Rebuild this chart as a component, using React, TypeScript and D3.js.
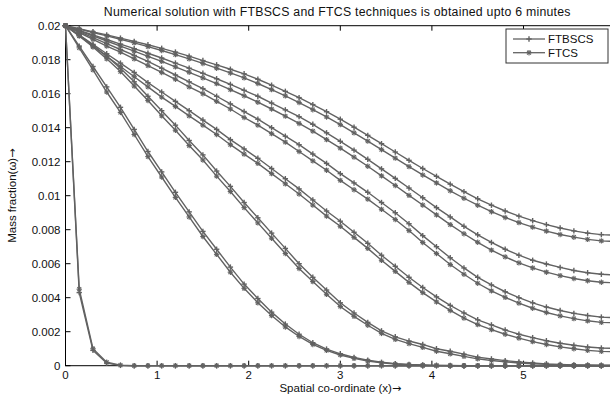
import React from 'react';
import * as d3 from 'd3';

const xs = [0, 0.15, 0.3, 0.45, 0.6, 0.75, 0.9, 1.05, 1.2, 1.35, 1.5, 1.65, 1.8, 1.95, 2.1, 2.25, 2.4, 2.55, 2.7, 2.85, 3.0, 3.15, 3.3, 3.45, 3.6, 3.75, 3.9, 4.05, 4.2, 4.35, 4.5, 4.65, 4.8, 4.95, 5.1, 5.25, 5.4, 5.55, 5.7, 5.85, 6.0];

// FTBSCS solution profiles (mass fraction) at successive times
const ftbscsT0 = [0.02, 0.0043, 0.0009, 0.00015, 0.00002, 0, 0, 0, 0, 0, 0, 0, 0, 0, 0, 0, 0, 0, 0, 0, 0, 0, 0, 0, 0, 0, 0, 0, 0, 0, 0, 0, 0, 0, 0, 0, 0, 0, 0, 0, 0];
const ftbscsT1 = [0.02, 0.0188, 0.0176, 0.0164, 0.0152, 0.0139, 0.0126, 0.0114, 0.0102, 0.00905, 0.0079, 0.00685, 0.0058, 0.0048, 0.00395, 0.00315, 0.00245, 0.00185, 0.00135, 0.00098, 0.0007, 0.00048, 0.00032, 0.0002, 0.00012, 0.00007, 0.00004, 0.00002, 0.00001, 0, 0, 0, 0, 0, 0, 0, 0, 0, 0, 0, 0];
const ftbscsT2 = [0.02, 0.01945, 0.01885, 0.0182, 0.0175, 0.0167, 0.01585, 0.015, 0.01415, 0.01325, 0.0124, 0.01145, 0.01055, 0.0096, 0.0087, 0.0078, 0.0069, 0.006, 0.0052, 0.00445, 0.0037, 0.0031, 0.00255, 0.00205, 0.0017, 0.00145, 0.00125, 0.001, 0.00085, 0.00068, 0.0005, 0.0004, 0.0003, 0.00022, 0.00016, 0.00011, 0.00008, 0.00005, 0.00004, 0.00003, 0.00002];
const ftbscsT3 = [0.02, 0.01945, 0.0189, 0.01835, 0.0178, 0.01725, 0.01665, 0.0161, 0.01555, 0.015, 0.01445, 0.0139, 0.0133, 0.01275, 0.0122, 0.0116, 0.011, 0.0104, 0.00975, 0.0091, 0.0085, 0.00785, 0.0072, 0.0065, 0.00585, 0.0052, 0.0046, 0.00405, 0.00355, 0.0031, 0.0027, 0.0024, 0.0021, 0.00185, 0.00165, 0.00147, 0.00132, 0.0012, 0.0011, 0.00104, 0.00102];
const ftbscsT4 = [0.02, 0.01965, 0.0193, 0.01895, 0.0186, 0.01825, 0.0179, 0.0175, 0.0171, 0.0167, 0.0163, 0.01585, 0.0154, 0.01495, 0.0145, 0.014, 0.0135, 0.013, 0.01245, 0.0119, 0.0113, 0.01075, 0.0102, 0.0096, 0.009, 0.00835, 0.00765, 0.007, 0.00635, 0.00575, 0.0052, 0.00475, 0.00435, 0.004, 0.0037, 0.00345, 0.00325, 0.00308, 0.00295, 0.00286, 0.00282];
const ftbscsT5 = [0.02, 0.01973, 0.01946, 0.01919, 0.01892, 0.01865, 0.01838, 0.0181, 0.0178, 0.0175, 0.0172, 0.01688, 0.01655, 0.0162, 0.01585, 0.01545, 0.01505, 0.01465, 0.0142, 0.0137, 0.0132, 0.01268, 0.01214, 0.01158, 0.01102, 0.01045, 0.00988, 0.0093, 0.00875, 0.0082, 0.0077, 0.00725, 0.00685, 0.0065, 0.0062, 0.00598, 0.00578, 0.0056, 0.00547, 0.00538, 0.00533];
const ftbscsT6 = [0.02, 0.01982, 0.01964, 0.01946, 0.01927, 0.01908, 0.01888, 0.01867, 0.01845, 0.01821, 0.01795, 0.0177, 0.01744, 0.01717, 0.01685, 0.0165, 0.01614, 0.01577, 0.01536, 0.01494, 0.0145, 0.01403, 0.01355, 0.01306, 0.01257, 0.01208, 0.0116, 0.01114, 0.01068, 0.01024, 0.00982, 0.00944, 0.0091, 0.0088, 0.00853, 0.0083, 0.0081, 0.00793, 0.0078, 0.00771, 0.00768];

// FTCS solution profiles (mass fraction) at successive times
const ftcsT0 = [0.02, 0.0045, 0.001, 0.0002, 0.00003, 0, 0, 0, 0, 0, 0, 0, 0, 0, 0, 0, 0, 0, 0, 0, 0, 0, 0, 0, 0, 0, 0, 0, 0, 0, 0, 0, 0, 0, 0, 0, 0, 0, 0, 0, 0];
const ftcsT1 = [0.02, 0.0187, 0.0174, 0.0161, 0.0149, 0.0136, 0.0123, 0.0111, 0.0099, 0.00875, 0.0076, 0.00655, 0.0055, 0.00455, 0.0037, 0.00295, 0.00228, 0.00172, 0.00125, 0.0009, 0.00063, 0.00043, 0.00028, 0.00017, 0.0001, 0.00006, 0.00003, 0.000015, 0.000005, 0, 0, 0, 0, 0, 0, 0, 0, 0, 0, 0, 0];
const ftcsT2 = [0.02, 0.0194, 0.01875, 0.01805, 0.0173, 0.01645, 0.0156, 0.0147, 0.01385, 0.01295, 0.0121, 0.01115, 0.01025, 0.0093, 0.0084, 0.0075, 0.0066, 0.00572, 0.00495, 0.0042, 0.00348, 0.0029, 0.00238, 0.0019, 0.00155, 0.0013, 0.00108, 0.00085, 0.0007, 0.00055, 0.0004, 0.00031, 0.00023, 0.00016, 0.00011, 0.00008, 0.00005, 0.00003, 0.00002, 0.00001, 0.00001];
const ftcsT3 = [0.02, 0.0194, 0.0188, 0.0182, 0.0176, 0.017, 0.0164, 0.0158, 0.01525, 0.0147, 0.01415, 0.0136, 0.013, 0.01245, 0.0119, 0.0113, 0.0107, 0.0101, 0.00945, 0.0088, 0.0082, 0.00755, 0.0069, 0.0062, 0.00555, 0.0049, 0.0043, 0.00375, 0.00325, 0.0028, 0.00242, 0.00212, 0.00185, 0.00162, 0.00142, 0.00125, 0.00111, 0.001, 0.0009, 0.00084, 0.00082];
const ftcsT4 = [0.02, 0.0196, 0.0192, 0.0188, 0.01845, 0.01805, 0.01765, 0.01725, 0.01685, 0.0164, 0.016, 0.01555, 0.0151, 0.0146, 0.01415, 0.01365, 0.01315, 0.0126, 0.01205, 0.0115, 0.0109, 0.01035, 0.0098, 0.0092, 0.0086, 0.00795, 0.00725, 0.0066, 0.00595, 0.00538, 0.00485, 0.0044, 0.00402, 0.00368, 0.00338, 0.00313, 0.00293, 0.00277, 0.00264, 0.00255, 0.00252];
const ftcsT5 = [0.02, 0.0197, 0.0194, 0.0191, 0.0188, 0.0185, 0.0182, 0.0179, 0.01758, 0.01726, 0.01693, 0.01659, 0.01624, 0.01588, 0.0155, 0.0151, 0.01468, 0.01425, 0.0138, 0.0133, 0.0128, 0.01227, 0.01173, 0.01117, 0.0106, 0.01002, 0.00945, 0.00887, 0.0083, 0.00776, 0.00726, 0.0068, 0.0064, 0.00605, 0.00575, 0.0055, 0.0053, 0.00513, 0.005, 0.00491, 0.00487];
const ftcsT6 = [0.02, 0.0198, 0.0196, 0.0194, 0.0192, 0.01899, 0.01877, 0.01854, 0.0183, 0.01805, 0.01778, 0.0175, 0.01722, 0.01693, 0.0166, 0.01624, 0.01587, 0.01548, 0.01506, 0.01463, 0.01418, 0.0137, 0.01321, 0.01271, 0.01221, 0.01171, 0.01122, 0.01075, 0.01029, 0.00985, 0.00944, 0.00906, 0.00872, 0.00842, 0.00815, 0.00792, 0.00772, 0.00756, 0.00743, 0.00734, 0.00731];

const ftbscsSeries = [ftbscsT0, ftbscsT1, ftbscsT2, ftbscsT3, ftbscsT4, ftbscsT5, ftbscsT6];
const ftcsSeries = [ftcsT0, ftcsT1, ftcsT2, ftcsT3, ftcsT4, ftcsT5, ftcsT6];

const xTicks = [0, 1, 2, 3, 4, 5];
const yTicks = [0, 0.002, 0.004, 0.006, 0.008, 0.01, 0.012, 0.014, 0.016, 0.018, 0.02];
const yTickLabels = ['0', '0.002', '0.004', '0.006', '0.008', '0.01', '0.012', '0.014', '0.016', '0.018', '0.02'];
const legendNames = ['FTBSCS', 'FTCS'];

const titleText = 'Numerical solution with FTBSCS and FTCS techniques is obtained upto 6 minutes';
const xLabel = 'Spatial co-ordinate (x)';
const yLabel = 'Mass fraction(\u03c9)';
const ARROW = '\u2192';

const W = 610;
const H = 396;
const L = 65.5;
const R = 615.1;
const T = 25.7;
const B = 365.7;
const GREY = '#626262';
const FONT = '"Liberation Sans", Arial, Helvetica, sans-serif';

function PlusMarker({ x, y }: { x: number; y: number }) {
  const r = 2.7;
  return (
    <g stroke={GREY} strokeWidth={1.4}>
      <line x1={x - r} y1={y} x2={x + r} y2={y} />
      <line x1={x} y1={y - r} x2={x} y2={y + r} />
    </g>
  );
}

function StarMarker({ x, y }: { x: number; y: number }) {
  const r = 2.7;
  const d = r * 0.72;
  return (
    <g stroke={GREY} strokeWidth={1.1}>
      <line x1={x - r} y1={y} x2={x + r} y2={y} />
      <line x1={x} y1={y - r} x2={x} y2={y + r} />
      <line x1={x - d} y1={y - d} x2={x + d} y2={y + d} />
      <line x1={x - d} y1={y + d} x2={x + d} y2={y - d} />
    </g>
  );
}

export default function App() {
  const xScale = d3.scaleLinear().domain([0, 6]).range([L, R]);
  const yScale = d3.scaleLinear().domain([0, 0.02]).range([B, T]);
  const line = d3
    .line<number>()
    .x((_, i) => xScale(xs[i]))
    .y((d) => yScale(d));

  const legX = 506;
  const legY = 29;

  return (
    <svg
      width={W}
      height={H}
      viewBox={`0 0 ${W} ${H}`}
      style={{ position: 'absolute', left: 0, top: 0, background: '#fff' }}
      fontFamily={FONT}
    >
      <rect x={0} y={0} width={W} height={H} fill="#fff" />
      <rect x={L} y={T} width={R - L} height={B - T} fill="#fff" stroke="#000" strokeWidth={1} />
      {xTicks.map((t) => (
        <g key={'xt' + t}>
          <line x1={xScale(t)} x2={xScale(t)} y1={B} y2={B - 5} stroke="#000" />
          <line x1={xScale(t)} x2={xScale(t)} y1={T} y2={T + 5} stroke="#000" />
          <text x={xScale(t)} y={B + 13} textAnchor="middle" fontSize={11.5} fill="#111">
            {t}
          </text>
        </g>
      ))}
      {yTicks.map((t, i) => (
        <g key={'yt' + i}>
          <line x1={L} x2={L + 5} y1={yScale(t)} y2={yScale(t)} stroke="#000" />
          <text x={L - 5} y={yScale(t) + 4} textAnchor="end" fontSize={11.5} fill="#111">
            {yTickLabels[i]}
          </text>
        </g>
      ))}
      {ftbscsSeries.map((s, k) => (
        <path key={'bl' + k} d={line(s) || ''} fill="none" stroke={GREY} strokeWidth={1.4} />
      ))}
      {ftcsSeries.map((s, k) => (
        <path key={'cl' + k} d={line(s) || ''} fill="none" stroke={GREY} strokeWidth={1.4} />
      ))}
      {ftbscsSeries.map((s, k) => (
        <g key={'bm' + k}>
          {s.map((v, i) => (
            <PlusMarker key={i} x={xScale(xs[i])} y={yScale(v)} />
          ))}
        </g>
      ))}
      {ftcsSeries.map((s, k) => (
        <g key={'cm' + k}>
          {s.map((v, i) => (
            <StarMarker key={i} x={xScale(xs[i])} y={yScale(v)} />
          ))}
        </g>
      ))}
      <rect x={legX} y={legY} width={102} height={34} fill="#fff" stroke="#333" strokeWidth={1} />
      {legendNames.map((name, i) => {
        const ly = legY + 10 + i * 13.7;
        return (
          <g key={name}>
            <line x1={513} x2={545} y1={ly} y2={ly} stroke={GREY} strokeWidth={1.3} />
            {i === 0 ? <PlusMarker x={529} y={ly} /> : <StarMarker x={529} y={ly} />}
            <text x={548} y={ly + 4} fontSize={11.5} fill="#111">
              {name}
            </text>
          </g>
        );
      })}
      <text x={(L + R) / 2 - 3} y={16} textAnchor="middle" fontSize={12.3} letterSpacing={0.25} fill="#111">
        {titleText}
      </text>
      <text x={(L + R) / 2} y={392} textAnchor="middle" fontSize={11.5} fill="#111">
        {xLabel}
        <tspan fontFamily='"DejaVu Sans", sans-serif' fontSize={11}>{ARROW}</tspan>
      </text>
      <text
        transform={`translate(16, ${(T + B) / 2}) rotate(-90)`}
        textAnchor="middle"
        fontSize={11.5}
        fill="#111"
      >
        {yLabel}
        <tspan fontFamily='"DejaVu Sans", sans-serif' fontSize={11}>{ARROW}</tspan>
      </text>
    </svg>
  );
}
